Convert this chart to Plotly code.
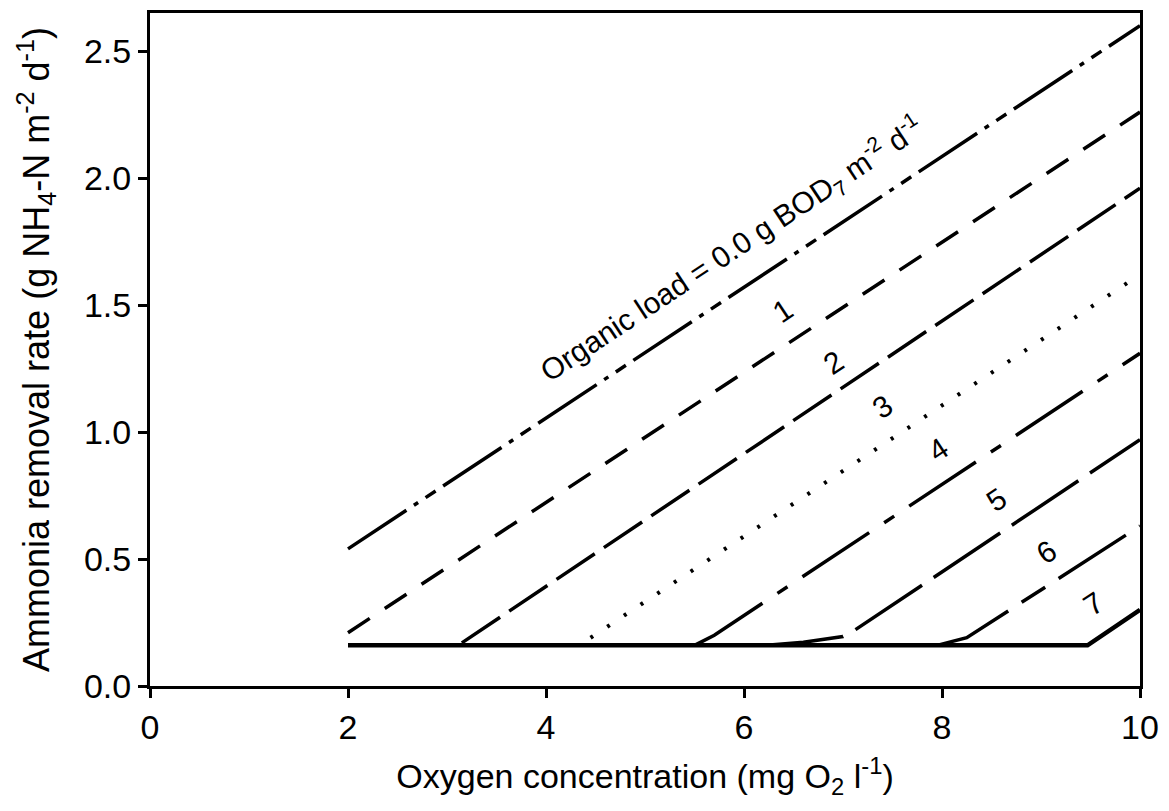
import plotly.graph_objects as go

# ---- data ----
line0_x = [2.0, 10.0]
line0_y = [0.54, 2.60]
line1_x = [2.0, 10.0]
line1_y = [0.21, 2.26]
line2_x = [3.15, 10.0]
line2_y = [0.17, 1.96]
line3_x = [4.45, 10.0]
line3_y = [0.19, 1.62]
line4_x = [5.5, 5.7, 10.0]
line4_y = [0.16, 0.20, 1.31]
line5_x = [6.2, 6.6, 7.0, 7.1, 10.0]
line5_y = [0.16, 0.172, 0.195, 0.215, 0.97]
line6_x = [7.95, 8.25, 10.0]
line6_y = [0.16, 0.19, 0.63]
line7_x = [2.0, 9.47, 10.0]
line7_y = [0.16, 0.16, 0.30]

label_text = ["1", "2", "3", "4", "5", "6", "7"]
label_x = [6.39, 6.90, 7.40, 7.96, 8.55, 9.06, 9.53]
label_y = [1.48, 1.275, 1.10, 0.93, 0.735, 0.53, 0.325]

title_label = "Organic load = 0.0 g BOD<sub>7</sub> m<sup>-2</sup> d<sup>-1</sup>"
title_label_x = 5.88
title_label_y = 1.72

x_ticks = [0, 2, 4, 6, 8, 10]
y_ticks = [0.0, 0.5, 1.0, 1.5, 2.0, 2.5]

FONT = "Liberation Sans, Arial, sans-serif"

series = [
    (line0_x, line0_y, "70px,9px,5px,9px,12px,9px", 3.5),
    (line1_x, line1_y, "26px,18px", 3.5),
    (line2_x, line2_y, "46px,11px", 3.5),
    (line3_x, line3_y, "3px,17px", 4),
    (line4_x, line4_y, "80px,18px,12px,18px", 3.5),
    (line5_x, line5_y, "80px,14px", 3.5),
    (line6_x, line6_y, "80px,16px,28px,16px", 3.5),
    (line7_x, line7_y, "solid", 4.5),
]

fig = go.Figure()
for xs, ys, dash, w in series:
    fig.add_trace(go.Scatter(x=xs, y=ys, mode="lines",
                             line=dict(color="black", width=w, dash=dash),
                             showlegend=False, hoverinfo="skip"))

angle = -33.5
fig.add_annotation(x=title_label_x, y=title_label_y, text=title_label,
                   showarrow=False, textangle=angle,
                   font=dict(family=FONT, size=30, color="black"))
for t, lx, ly in zip(label_text, label_x, label_y):
    fig.add_annotation(x=lx, y=ly, text=t, showarrow=False, textangle=angle,
                       font=dict(family=FONT, size=30, color="black"))

fig.update_xaxes(range=[0, 10], tickvals=x_ticks, ticktext=[str(v) for v in x_ticks],
                 showline=True, linecolor="black", linewidth=3, mirror=True,
                 ticks="outside", ticklen=9, tickwidth=2.5, tickcolor="black",
                 showgrid=False, zeroline=False,
                 tickfont=dict(family=FONT, size=34, color="black"),
                 title=dict(text="Oxygen concentration (mg O<sub>2</sub> l<sup>-1</sup>)",
                            font=dict(family=FONT, size=34, color="black"), standoff=20))
fig.update_yaxes(range=[0, 2.65], tickvals=y_ticks, ticktext=[f"{v:.1f}" for v in y_ticks],
                 showline=True, linecolor="black", linewidth=3, mirror=True,
                 ticks="outside", ticklen=9, tickwidth=2.5, tickcolor="black",
                 showgrid=False, zeroline=False,
                 tickfont=dict(family=FONT, size=34, color="black"),
                 title=dict(text="Ammonia removal rate (g NH<sub>4</sub>-N m<sup>-2</sup> d<sup>-1</sup>)",
                            font=dict(family=FONT, size=36, color="black"), standoff=24))

fig.update_layout(width=1169, height=811,
                  margin=dict(l=142, r=37, t=2, b=133),
                  plot_bgcolor="white", paper_bgcolor="white")

fig.write_html("out.html")
